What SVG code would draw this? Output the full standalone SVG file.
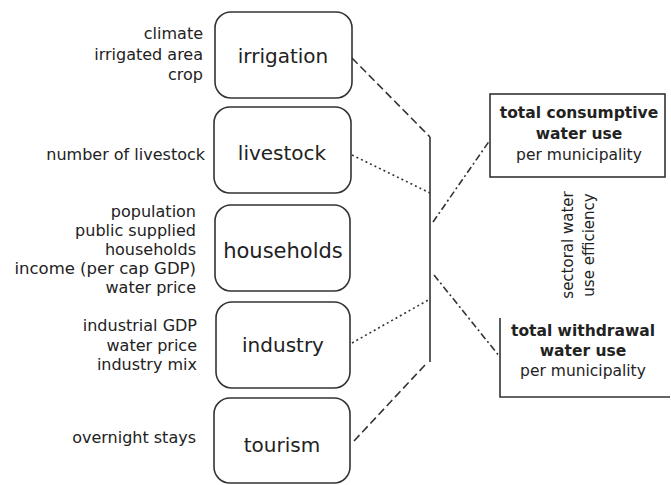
<svg xmlns="http://www.w3.org/2000/svg" width="671" height="485" viewBox="0 0 671 485">
<style>
.box{fill:none;stroke:#333;stroke-width:1.6}
.lbl{font-family:"DejaVu Sans","Liberation Sans",sans-serif;font-size:20px;fill:#222;text-anchor:middle}
.in{font-family:"DejaVu Sans","Liberation Sans",sans-serif;font-size:16px;fill:#222;text-anchor:end}
.out{font-family:"DejaVu Sans","Liberation Sans",sans-serif;font-size:15.5px;fill:#222;text-anchor:middle}
.b{font-weight:bold}
.c{fill:none;stroke:#333;stroke-width:1.6}
.dash{stroke-dasharray:8 4}
.dot{stroke-dasharray:2 3}
.dd{stroke-dasharray:7 3 2 3}
</style>
<rect width="671" height="485" fill="#fff"/>
<g id="irrigation">
<rect class="box" x="215" y="12" width="137" height="86" rx="16"/>
<text class="lbl" x="283" y="63">irrigation</text>
<text class="in" x="203" y="39">climate</text>
<text class="in" x="203" y="60">irrigated area</text>
<text class="in" x="203" y="80">crop</text>
</g>
<g id="livestock">
<rect class="box" x="214" y="107" width="137" height="86" rx="16"/>
<text class="lbl" x="282" y="160">livestock</text>
<text class="in" x="205" y="160">number of livestock</text>
</g>
<g id="households">
<rect class="box" x="215" y="205" width="135" height="86" rx="16"/>
<text class="lbl" x="283" y="258" style="font-size:21px">households</text>
<text class="in" x="196" y="217">population</text>
<text class="in" x="196" y="236">public supplied</text>
<text class="in" x="196" y="255">households</text>
<text class="in" x="196" y="274" style="font-size:16.5px">income (per cap GDP)</text>
<text class="in" x="196" y="293">water price</text>
</g>
<g id="industry">
<rect class="box" x="216" y="302" width="134" height="86" rx="16"/>
<text class="lbl" x="283" y="352">industry</text>
<text class="in" x="197" y="331">industrial GDP</text>
<text class="in" x="197" y="351">water price</text>
<text class="in" x="197" y="370">industry mix</text>
</g>
<g id="tourism">
<rect class="box" x="214" y="398" width="136" height="85" rx="16"/>
<text class="lbl" x="282" y="452">tourism</text>
<text class="in" x="196" y="443">overnight stays</text>
</g>
<g id="consumptive">
<rect class="box" x="490" y="94" width="175" height="83"/>
<text class="out b" x="579" y="118">total consumptive</text>
<text class="out b" x="579" y="139">water use</text>
<text class="out" x="579" y="160">per municipality</text>
</g>
<g id="withdrawal">
<path class="box" d="M500,318 V397 H670"/>
<text class="out b" x="583" y="336">total withdrawal</text>
<text class="out b" x="583" y="356">water use</text>
<text class="out" x="583" y="376">per municipality</text>
</g>
<g id="efficiency">
<text class="out" transform="translate(580,245) rotate(-90)" style="font-size:15px"><tspan x="0" y="-7">sectoral water</tspan><tspan x="0" y="14">use efficiency</tspan></text>
</g>
<g id="connectors">
<line class="c" x1="430" y1="137" x2="430" y2="362"/>
<line class="c dash" x1="352" y1="58" x2="430" y2="137"/>
<line class="c dot" x1="352" y1="155" x2="430" y2="193"/>
<line class="c dot" x1="352" y1="343" x2="430" y2="299"/>
<line class="c dash" x1="354" y1="441" x2="425" y2="365"/>
<line class="c dd" x1="433" y1="222" x2="490" y2="140"/>
<line class="c dd" x1="434" y1="275" x2="500" y2="357"/>
</g>
</svg>
